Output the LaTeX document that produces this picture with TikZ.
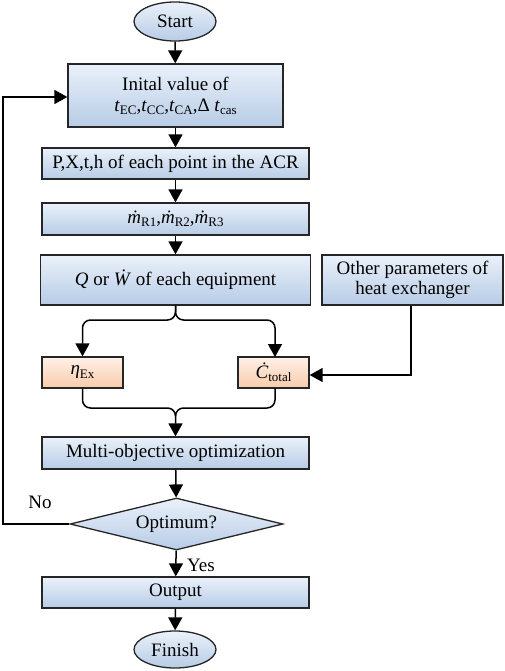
\documentclass[tikz,border=0pt]{standalone}
\usepackage{fontspec}
\setmainfont{Liberation Serif}
\usetikzlibrary{arrows.meta,shapes.geometric}
\definecolor{btop}{HTML}{EAF1FA}
\definecolor{bbot}{HTML}{B7CCE6}
\definecolor{otop}{HTML}{FEF1E8}
\definecolor{obot}{HTML}{F8CBAA}
\newcommand\sbx[1]{\raisebox{-0.35ex}{\fontsize{13}{13}\selectfont #1}}
\begin{document}
\begin{tikzpicture}[x=1pt,y=-1pt,
  every node/.style={font=\fontsize{19}{23}\selectfont},
  bluebox/.style={draw=black!85, line width=1.3pt, top color=btop, bottom color=bbot, inner sep=0pt, align=center},
  orangebox/.style={draw=black!85, line width=1.3pt, top color=otop, bottom color=obot, inner sep=0pt, align=center},
  term/.style={ellipse, draw=black!85, line width=1.3pt, top color=btop, bottom color=bbot, inner sep=0pt, minimum width=82pt},
  conn/.style={line width=1.5pt, -{Triangle[width=14pt,length=13pt]}},
  plain/.style={line width=1.5pt}
]
\useasboundingbox (0,0) rectangle (505,671);

\node[term, minimum height=39pt] (start) at (175,21.5) {Start};
\node[bluebox, minimum width=215pt, minimum height=63pt] (init) at (175.5,95.5)
  {Inital value of\\[-2pt] \textit{t}\sbx{EC},\textit{t}\sbx{CC},\textit{t}\sbx{CA},Δ \textit{t}\sbx{cas}};
\node[bluebox, minimum width=267pt, minimum height=31pt] (pxth) at (175.5,163.5) {P,X,t,h of each point in the ACR};
\node[bluebox, minimum width=267pt, minimum height=32pt] (mr) at (175.5,219)
  {\textit{ṁ}\sbx{R1},\textit{ṁ}\sbx{R2},\textit{ṁ}\sbx{R3}};
\node[bluebox, minimum width=270pt, minimum height=50pt] (q) at (175.5,280)
  {\textit{Q} or \textit{Ẇ} of each equipment};
\node[bluebox, minimum width=181pt, minimum height=50pt] (other) at (412.5,280)
  {Other parameters of\\[-3pt] heat exchanger};
\node[orangebox, minimum width=81pt, minimum height=31pt] (eta) at (82.5,372.5) {\textit{η}\sbx{Ex}};
\node[orangebox, minimum width=71pt, minimum height=31pt] (ctot) at (273.5,372.5) {\textit{Ċ}\sbx{total}};
\node[bluebox, minimum width=267pt, minimum height=32pt] (multi) at (175.5,453) {Multi-objective optimization};
\node[diamond, aspect=4.1, draw=black!85, line width=1.3pt, top color=btop, bottom color=bbot, inner sep=0pt,
  minimum width=213pt, minimum height=52pt] (opt) at (176.5,524) {Optimum?};
\node[bluebox, minimum width=267pt, minimum height=31pt] (out) at (175.5,592.5) {Output};
\node[term, minimum height=37pt] (finish) at (175,649.5) {Finish};

\node (no) at (40,502) {No};
\node (yes) at (201,565) {Yes};

\coordinate (fb1) at (3,524);
\coordinate (fb2) at (3,97);
\coordinate (ot1) at (411,375);

\draw[conn] (start) -- (init);
\draw[conn] (init) -- (pxth);
\draw[conn] (pxth) -- (mr);
\draw[conn] (mr) -- (q);
\draw[conn, rounded corners=8pt] (q.south) -- (175.5,320) -- (82.5,320) -- (eta.north);
\draw[conn, rounded corners=8pt] (q.south) -- (175.5,320) -- (275,320) -- (275,357);
\draw[conn] (other.south -| ot1) -- (ot1) -- (ctot.east |- ot1);
\draw[plain, rounded corners=8pt] (eta.south) -- (82.5,408) -- (175.5,408) -- (175.5,415);
\draw[conn, rounded corners=8pt] (275,388) -- (275,408) -- (175.5,408) -- (multi.north);
\draw[conn] (multi) -- (opt);
\draw[conn] (opt.west) -- (fb1) -- (fb2) -- (init.west |- fb2);
\draw[conn] (opt) -- (out);
\draw[conn] (out) -- (finish);
\end{tikzpicture}
\end{document}
